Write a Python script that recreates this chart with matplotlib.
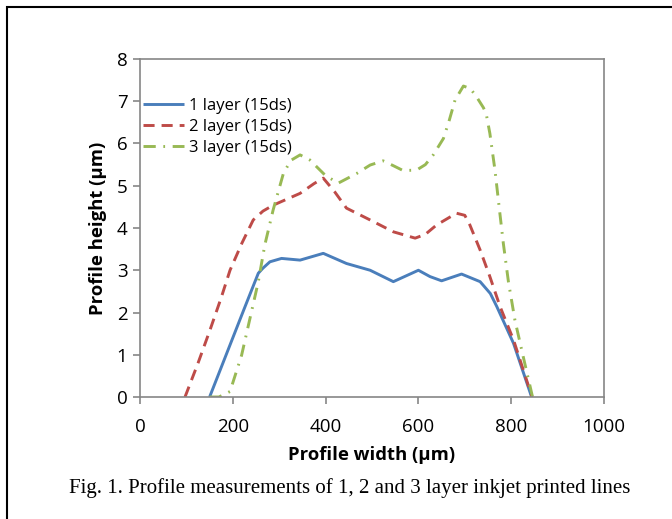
import matplotlib
matplotlib.use("Agg")
import matplotlib.pyplot as plt
from matplotlib.patches import Rectangle

# Data
x1 = [150, 175, 200, 225, 255, 265, 280, 305, 345, 395, 445, 496, 546, 570, 600, 625, 650, 693, 733, 755, 769, 805, 844]
y1 = [0, 0.7, 1.4, 2.1, 2.93, 3.05, 3.2, 3.28, 3.24, 3.40, 3.16, 3.0, 2.73, 2.85, 3.0, 2.85, 2.75, 2.91, 2.73, 2.45, 2.14, 1.27, 0]

x2 = [97, 125, 151, 175, 194, 220, 244, 265, 287, 345, 375, 395, 420, 445, 496, 546, 593, 615, 639, 682, 700, 711, 733, 754, 776, 805, 845]
y2 = [0, 0.8, 1.59, 2.35, 3.0, 3.65, 4.19, 4.4, 4.54, 4.82, 5.05, 5.18, 4.85, 4.47, 4.19, 3.91, 3.76, 3.85, 4.07, 4.35, 4.3, 4.07, 3.48, 2.85, 2.14, 1.35, 0]

x3 = [150, 170, 194, 219, 237, 255, 269, 287, 309, 325, 345, 366, 399, 427, 467, 496, 524, 545, 567, 596, 615, 632, 654, 666, 679, 697, 712, 725, 740, 746, 754, 765, 774, 783, 794, 808, 826, 846]
y3 = [0, 0, 0.13, 0.99, 1.86, 2.73, 3.6, 4.43, 5.29, 5.6, 5.73, 5.61, 5.25, 5.06, 5.29, 5.49, 5.59, 5.48, 5.36, 5.37, 5.5, 5.73, 6.12, 6.53, 7.03, 7.36, 7.3, 7.11, 6.85, 6.71, 6.24, 5.37, 4.50, 3.64, 2.73, 1.82, 0.95, 0]

labels = ["1 layer (15ds)", "2 layer (15ds)", "3 layer (15ds)"]
xticks = [0, 200, 400, 600, 800, 1000]
yticks = [0, 1, 2, 3, 4, 5, 6, 7, 8]

W, H = 672, 519
fig = plt.figure(figsize=(W / 100, H / 100), dpi=100)
ax = fig.add_axes([140 / W, 1 - 397 / H, (604 - 140) / W, (397 - 59) / H])

lw = 2.1
ax.plot(x1, y1, color="#4A7EBB", lw=lw, label=labels[0], solid_capstyle="butt", solid_joinstyle="round")
ax.plot(x2, y2, color="#BE4B48", lw=lw, label=labels[1], linestyle=(0, (3.8, 2.4)), dash_capstyle="butt", dash_joinstyle="round")
ax.plot(x3, y3, color="#98B954", lw=lw, label=labels[2], linestyle=(0, (4.2, 2.6, 0.6, 2.6)), dash_capstyle="butt", dash_joinstyle="round")

ax.set_xlim(0, 1000)
ax.set_ylim(0, 8)
ax.set_xticks(xticks)
ax.set_yticks(yticks)

font = "Open Sans"
for sp in ax.spines.values():
    sp.set_color("#868686")
    sp.set_linewidth(1.2)
ax.tick_params(axis="both", direction="out", length=5, width=1.2, color="#868686",
               labelsize=13.5, labelcolor="black", pad=4)
for t in ax.get_xticklabels() + ax.get_yticklabels():
    t.set_fontfamily(font)
ax.tick_params(axis="x", pad=10)

ax.set_xlabel("Profile width (µm)", fontsize=13.3, fontweight="bold", family=font, labelpad=7)
ax.set_ylabel("Profile height (µm)", fontsize=13.3, fontweight="bold", family=font, labelpad=7)

leg = ax.legend(loc="upper left", bbox_to_anchor=(-0.016, 0.915), frameon=False,
                prop={"family": font, "size": 12}, handlelength=2.5, handletextpad=0.3,
                labelspacing=0.3, borderaxespad=0.2)

fig.text(350 / W, 1 - 488 / H, "Fig. 1. Profile measurements of 1, 2 and 3 layer inkjet printed lines",
         ha="center", va="center", family="Liberation Serif", fontsize=15)

fig.patches.append(Rectangle((7 / W, -0.1), 1.2, 1 - 7 / H + 0.1, transform=fig.transFigure,
                             fill=False, edgecolor="black", linewidth=1.5))

fig.savefig("out.png", dpi=100)
